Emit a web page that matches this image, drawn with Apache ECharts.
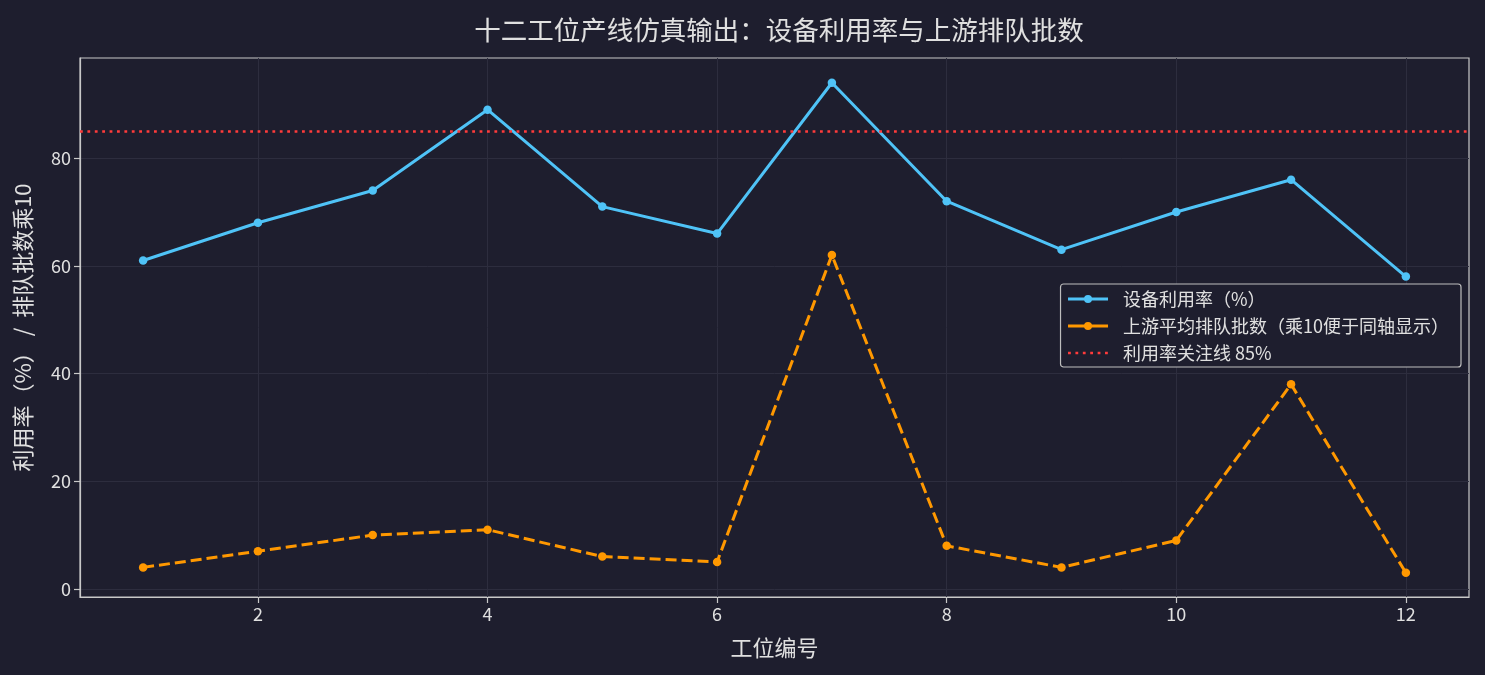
<!DOCTYPE html>
<html><head><meta charset="utf-8">
<script src="https://cdn.jsdelivr.net/npm/echarts@6/dist/echarts.min.js"></script>
<style>html,body{margin:0;padding:0;background:#1e1e2e;}#c{width:1485px;height:675px;}</style>
</head><body><div id="c"></div>
<script>
const stations = [1,2,3,4,5,6,7,8,9,10,11,12];
const utilization = [61,68,74,89,71,66,94,72,63,70,76,58];
const queueX10 = [4,7,10,11,6,5,62,8,4,9,38,3];
const threshold = 85;
const xTicks = [2,4,6,8,10,12];
const yTicks = [0,20,40,60,80];

const FONT = "'Noto Sans CJK SC','Noto Sans',sans-serif";
const TXT = '#e0e0e0';
const chart = echarts.init(document.getElementById('c'));
chart.setOption({
  backgroundColor:'#1e1e2e',
  animation:false,
  textStyle:{fontFamily:FONT,color:TXT},
  title:{text:'十二工位产线仿真输出：设备利用率与上游排队批数',left:774,top:12,textAlign:'center',
    textStyle:{fontFamily:FONT,fontSize:26.5,fontWeight:'normal',color:TXT}},
  grid:{left:80,right:16,top:58,bottom:78,show:true,borderColor:'#c8c8c8',borderWidth:1.2,backgroundColor:'#1e1e2e'},
  legend:{orient:'vertical',right:24,top:284,itemWidth:40,itemHeight:10,itemGap:9,
    backgroundColor:'#1e1e2e',borderColor:'#bdbdbd',borderWidth:1.2,borderRadius:3,padding:[6,12,5,6],
    textStyle:{color:TXT,fontSize:18,fontFamily:FONT,padding:[0,0,0,10]},
    data:[
      {name:'设备利用率（%）',lineStyle:{width:3}},
      {name:'上游平均排队批数（乘10便于同轴显示）',lineStyle:{type:'solid',width:3}},
      {name:'利用率关注线 85%',lineStyle:{width:2.6},itemStyle:{color:'transparent',borderWidth:0}}
    ]},
  xAxis:{type:'value',min:0.45,max:12.55,
    name:'工位编号',nameLocation:'middle',nameGap:40,nameTextStyle:{fontSize:22,color:TXT,fontFamily:FONT},
    axisLine:{show:true,onZero:false,lineStyle:{color:'#c8c8c8',width:1.2}},
    axisTick:{show:true,customValues:xTicks,length:6,lineStyle:{color:'#c8c8c8',width:1.2}},
    axisLabel:{customValues:xTicks,color:TXT,fontSize:18,margin:8,fontFamily:FONT},
    splitLine:{show:true,lineStyle:{color:'#2d2d3e',width:1}}},
  yAxis:{type:'value',min:-1.5,max:98.6,
    name:'利用率（%） /  排队批数乘10',nameLocation:'middle',nameGap:46,nameTextStyle:{fontSize:22,color:TXT,fontFamily:FONT},
    axisLine:{show:true,onZero:false,lineStyle:{color:'#c8c8c8',width:1.2}},
    axisTick:{show:true,customValues:yTicks,length:6,lineStyle:{color:'#c8c8c8',width:1.2}},
    axisLabel:{customValues:yTicks,color:TXT,fontSize:18,margin:9,fontFamily:FONT},
    splitLine:{show:true,lineStyle:{color:'#2d2d3e',width:1}}},
  series:[
    {name:'设备利用率（%）',type:'line',data:stations.map((s,i)=>[s,utilization[i]]),
      symbol:'circle',symbolSize:8.5,lineStyle:{color:'#4fc3f7',width:3},itemStyle:{color:'#4fc3f7'},z:3},
    {name:'上游平均排队批数（乘10便于同轴显示）',type:'line',data:stations.map((s,i)=>[s,queueX10[i]]),
      symbol:'circle',symbolSize:8.5,lineStyle:{color:'#ff9800',width:3,type:[11,5]},itemStyle:{color:'#ff9800'},z:3},
    {name:'利用率关注线 85%',type:'line',data:[],symbol:'none',
      lineStyle:{color:'#ff3b3b',width:2.6,type:[2.8,4.6]},itemStyle:{color:'#ff3b3b'},
      markLine:{silent:true,symbol:'none',label:{show:false},
        lineStyle:{color:'#ff3b3b',width:2.6,type:[2.8,4.6]},data:[{yAxis:threshold}]}}
  ]
});
</script></body></html>
